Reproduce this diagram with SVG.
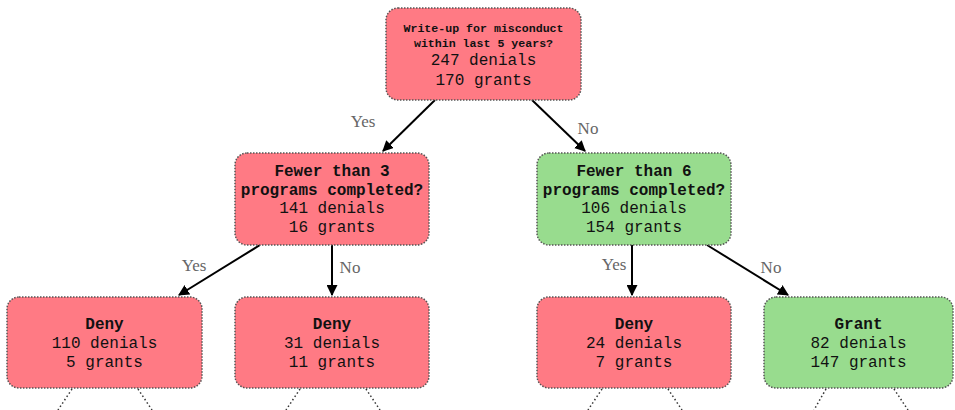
<svg xmlns="http://www.w3.org/2000/svg" width="955" height="410" viewBox="0 0 955 410">
<style>
.box{stroke:#555;stroke-width:1.5;stroke-dasharray:1.5 1.5}
.red{fill:#ff7a84}
.green{fill:#98dc8e}
.h{font-family:"Liberation Mono",monospace;font-weight:bold;font-size:16px;fill:#111;text-anchor:middle}
.hs{font-family:"Liberation Mono",monospace;font-weight:bold;font-size:11.6px;fill:#111;text-anchor:middle}
.c{font-family:"Liberation Mono",monospace;font-size:16px;fill:#111;text-anchor:middle}
.lbl{font-family:"Liberation Serif",serif;font-size:17px;fill:#666;text-anchor:middle}
.e{stroke:#000;stroke-width:2;fill:none;marker-end:url(#ah)}
.d{stroke:#333;stroke-width:1.5;stroke-dasharray:1.5 2.5;fill:none}
</style>
<defs>
<marker id="ah" viewBox="0 0 10 10" refX="9" refY="5" markerWidth="5.5" markerHeight="5.5" orient="auto" markerUnits="strokeWidth">
<path d="M0,0 L10,5 L0,10 Z" fill="#000"/>
</marker>
</defs>
<g id="connectors">
<line class="e" x1="435" y1="100" x2="383" y2="151"/>
<line class="e" x1="532" y1="100" x2="585" y2="151"/>
<line class="e" x1="260" y1="245" x2="179" y2="295"/>
<line class="e" x1="332" y1="245" x2="332" y2="295"/>
<line class="e" x1="632" y1="245" x2="632" y2="295"/>
<line class="e" x1="707" y1="245" x2="788" y2="295"/>
<text class="lbl" x="363" y="127">Yes</text>
<text class="lbl" x="588" y="134">No</text>
<text class="lbl" x="194" y="271">Yes</text>
<text class="lbl" x="350" y="273">No</text>
<text class="lbl" x="614" y="270">Yes</text>
<text class="lbl" x="771" y="273">No</text>
<line class="d" x1="72" y1="389" x2="58" y2="410"/>
<line class="d" x1="138" y1="389" x2="152" y2="410"/>
<line class="d" x1="300" y1="389" x2="286" y2="410"/>
<line class="d" x1="366" y1="389" x2="380" y2="410"/>
<line class="d" x1="602" y1="389" x2="588" y2="410"/>
<line class="d" x1="668" y1="389" x2="682" y2="410"/>
<line class="d" x1="826" y1="389" x2="814" y2="410"/>
<line class="d" x1="894" y1="389" x2="908" y2="410"/>
</g>
<g id="root">
<rect class="box red" x="386" y="8" width="195" height="92" rx="12"/>
<text class="hs" x="483.5" y="32">Write-up for misconduct</text>
<text class="hs" x="483.5" y="47">within last 5 years?</text>
<text class="c" x="483.5" y="65">247 denials</text>
<text class="c" x="483.5" y="85">170 grants</text>
</g>
<g id="n_left">
<rect class="box red" x="235" y="153" width="194" height="92" rx="12"/>
<text class="h" x="332" y="176">Fewer than 3</text>
<text class="h" x="332" y="195">programs completed?</text>
<text class="c" x="332" y="213">141 denials</text>
<text class="c" x="332" y="232">16 grants</text>
</g>
<g id="n_right">
<rect class="box green" x="537" y="153" width="194" height="92" rx="12"/>
<text class="h" x="634" y="176">Fewer than 6</text>
<text class="h" x="634" y="195">programs completed?</text>
<text class="c" x="634" y="213">106 denials</text>
<text class="c" x="634" y="232">154 grants</text>
</g>
<g id="leaf1">
<rect class="box red" x="7" y="297" width="195" height="91" rx="12"/>
<text class="h" x="104.5" y="329">Deny</text>
<text class="c" x="104.5" y="348">110 denials</text>
<text class="c" x="104.5" y="367">5 grants</text>
</g>
<g id="leaf2">
<rect class="box red" x="235" y="297" width="194" height="91" rx="12"/>
<text class="h" x="332" y="329">Deny</text>
<text class="c" x="332" y="348">31 denials</text>
<text class="c" x="332" y="367">11 grants</text>
</g>
<g id="leaf3">
<rect class="box red" x="537" y="297" width="194" height="91" rx="12"/>
<text class="h" x="634" y="329">Deny</text>
<text class="c" x="634" y="348">24 denials</text>
<text class="c" x="634" y="367">7 grants</text>
</g>
<g id="leaf4">
<rect class="box green" x="764" y="297" width="189" height="91" rx="12"/>
<text class="h" x="858.5" y="329">Grant</text>
<text class="c" x="858.5" y="348">82 denials</text>
<text class="c" x="858.5" y="367">147 grants</text>
</g>
</svg>
